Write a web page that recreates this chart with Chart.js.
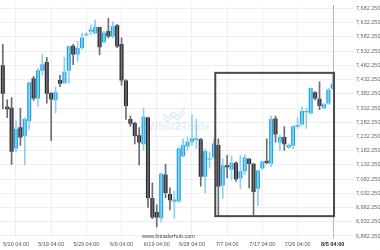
<!DOCTYPE html>
<html>
<head>
<meta charset="utf-8">
<script src="https://cdn.jsdelivr.net/npm/chart.js@4/dist/chart.umd.min.js"></script>
<style>
  html, body { margin: 0; padding: 0; background: #fff; }
  #wrap { width: 380px; height: 250px; }
</style>
</head>
<body>
<div id="wrap"><canvas id="chart"></canvas></div>
<script>
/* ---------- DATA ---------- */
const opens = [7481.5, 7336.0, 7332.5, 7191.5, 7263.7, 7235.1, 7286.7, 7435.7, 7366.9, 7464.3,
  7493.0, 7384.1, 7361.2, 7430.0, 7420.8, 7464.3, 7550.3, 7521.7, 7544.6, 7589.3,
  7601.9, 7596.2, 7615.7, 7565.2, 7601.9, 7584.7, 7622.5, 7556.0, 7427.7, 7292.4,
  7278.6, 7235.1, 7206.4, 7298.1, 7015.0, 6965.7, 6946.2, 7097.5, 7028.7, 7003.5,
  7005.8, 7164.0, 7198.4, 7214.4, 7221.3, 7221.3, 7091.8, 7152.5, 7160.6, 7200.7,
  7060.8, 7129.6, 7117.0, 7138.8, 7086.1, 7111.3, 7152.5, 7135.3, 7049.4, 7120.5,
  7145.7, 7137.6, 7294.7, 7212.2, 7229.4, 7195.0, 7200.7, 7267.2, 7275.2, 7318.8,
  7315.3, 7386.4, 7363.5, 7332.5, 7349.7, 7401.3];
const highs = [7556.0, 7361.2, 7369.2, 7286.7, 7332.5, 7298.1, 7424.2, 7443.7, 7470.1, 7521.7,
  7510.2, 7386.4, 7407.0, 7447.1, 7510.2, 7550.3, 7556.0, 7567.5, 7596.2, 7599.6,
  7624.8, 7642.0, 7617.0, 7601.9, 7647.7, 7636.3, 7627.1, 7579.0, 7432.3, 7303.9,
  7283.2, 7263.7, 7332.5, 7300.4, 7068.9, 6992.1, 7103.3, 7134.2, 7051.7, 7040.2,
  7195.0, 7223.6, 7229.4, 7309.6, 7292.4, 7225.9, 7189.2, 7177.8, 7223.6, 7223.6,
  7154.8, 7166.3, 7162.9, 7143.4, 7166.3, 7168.6, 7154.8, 7137.6, 7114.7, 7145.7,
  7223.6, 7303.9, 7303.9, 7237.4, 7267.2, 7206.4, 7269.5, 7298.1, 7336.0, 7332.5,
  7403.6, 7389.8, 7424.2, 7349.7, 7401.3, 7452.9];
const lows = [7329.1, 7298.1, 7134.2, 7180.0, 7200.7, 7131.9, 7258.0, 7358.9, 7338.2, 7447.1,
  7349.7, 7217.9, 7315.3, 7407.0, 7418.5, 7418.5, 7485.0, 7496.4, 7538.8, 7584.7,
  7590.4, 7592.7, 7519.4, 7561.8, 7579.0, 7579.0, 7544.6, 7412.8, 7292.4, 7267.2,
  7206.4, 7131.9, 7183.5, 6982.9, 6942.8, 6914.1, 6931.3, 7017.3, 6973.7, 6942.8,
  7000.1, 7160.6, 7183.5, 7200.7, 7189.2, 7057.4, 7034.5, 7120.5, 7154.8, 6954.0,
  7015.0, 7086.1, 7080.3, 7074.6, 7049.4, 7097.5, 7051.7, 6957.0, 6988.6, 7114.7,
  7135.3, 7126.2, 7212.2, 7183.5, 7183.5, 7189.2, 7189.2, 7260.3, 7271.8, 7260.3,
  7309.6, 7361.2, 7326.8, 7329.1, 7344.0, 7397.9];
const closes = [7384.1, 7329.1, 7180.0, 7258.0, 7229.4, 7292.4, 7420.8, 7366.9, 7464.3, 7485.0,
  7384.1, 7363.5, 7386.4, 7418.5, 7458.6, 7548.0, 7521.7, 7542.3, 7579.0, 7591.6,
  7607.6, 7615.7, 7546.9, 7596.2, 7584.7, 7619.1, 7550.3, 7430.0, 7340.5, 7278.6,
  7235.1, 7212.2, 7300.4, 7017.3, 6948.5, 6948.5, 7099.8, 7034.5, 7009.2, 7009.2,
  7189.2, 7200.7, 7212.2, 7223.6, 7224.8, 7091.8, 7180.0, 7154.8, 7206.4, 7057.4,
  7129.6, 7125.0, 7138.8, 7082.6, 7109.0, 7157.1, 7136.5, 7037.9, 7111.3, 7143.4,
  7140.0, 7292.4, 7240.8, 7229.4, 7206.4, 7200.7, 7267.2, 7271.8, 7321.0, 7321.0,
  7401.3, 7366.9, 7340.5, 7344.0, 7395.6, 7416.2];

const xTickIndex = [3, 11, 19, 27, 35, 43, 51, 59, 67, 75];
const xTickLabels = ["5/10 04:00", "5/19 04:00", "5/29 04:00", "6/9 04:00", "6/19 04:00",
  "6/28 04:00", "7/7 04:00", "7/17 04:00", "7/26 04:00", "8/5 04:00"];
const yTickValues = [6882.25, 6932.25, 6982.25, 7032.25, 7082.25, 7132.25, 7182.25, 7232.25,
  7282.25, 7332.25, 7382.25, 7432.25, 7482.25, 7532.25, 7582.25, 7632.25, 7682.25];

// pattern box (in index / price units)
const boxFrom = 48.3, boxTo = 75.3, boxTop = 7456, boxBottom = 6952;

/* ---------- COLOURS ---------- */
const UP = "#1ea5e3", DOWN = "#2a2a33";
const UP_WICK = "#8ccfee", DOWN_WICK = "#6d6d72";

const isUp = opens.map((o, i) => closes[i] >= o);
const bodies = opens.map((o, i) => ({ x: i, y: [o, closes[i]] }));
const wicks = lows.map((l, i) => ({ x: i, y: [l, highs[i]] }));

const FONT = "'Liberation Sans', Arial, sans-serif";

/* ---------- EXTRAS ---------- */
const extras = {
  id: "extras",
  beforeDatasetsDraw(chart) {
    const { ctx } = chart;
    // faint watermark
    ctx.save();
    ctx.globalAlpha = 0.3;
    ctx.font = "bold 11px " + FONT;
    ctx.textBaseline = "middle";
    ctx.fillStyle = "#b9c4cc";
    let x = 148;
    const y = 127;
    ctx.fillText("What", x, y);
    x += ctx.measureText("What").width;
    ctx.fillStyle = "#7cc4ea";
    ctx.fillText("2", x, y);
    x += ctx.measureText("2").width;
    ctx.fillStyle = "#b9c4cc";
    ctx.fillText("Trade", x, y);
    ctx.strokeStyle = "#7cc4ea";
    ctx.lineWidth = 1.5;
    ctx.beginPath();
    ctx.moveTo(163, 114); ctx.lineTo(168, 118); ctx.lineTo(173, 112);
    ctx.lineTo(178, 116); ctx.lineTo(185, 108);
    ctx.stroke();
    ctx.beginPath();
    ctx.moveTo(163, 118); ctx.lineTo(168, 122); ctx.lineTo(173, 116);
    ctx.lineTo(178, 120); ctx.lineTo(185, 112);
    ctx.stroke();
    ctx.restore();
  },
  afterDatasetsDraw(chart) {
    const { ctx, chartArea, scales } = chart;
    const xs = scales.x, ys = scales.y;
    ctx.save();
    // dotted current line
    const lx = Math.round(xs.getPixelForValue(xTickIndex[xTickIndex.length - 1])) + 0.5;
    ctx.strokeStyle = "#5d7890";
    ctx.lineWidth = 1;
    ctx.setLineDash([1, 1]);
    ctx.beginPath();
    ctx.moveTo(lx, chartArea.top);
    ctx.lineTo(lx, chartArea.bottom + 1);
    ctx.stroke();
    ctx.setLineDash([]);
    // box
    ctx.strokeStyle = "#4a4a4a";
    ctx.lineWidth = 2;
    const x0 = xs.getPixelForValue(boxFrom), x1 = xs.getPixelForValue(boxTo);
    const y0 = ys.getPixelForValue(boxTop), y1 = ys.getPixelForValue(boxBottom);
    ctx.strokeRect(x0, y0, x1 - x0, y1 - y0);
    // site text
    ctx.fillStyle = "#444";
    ctx.font = "5.5px " + FONT;
    ctx.textBaseline = "middle";
    ctx.fillText("www.fxtraderhub.com", 142, chartArea.bottom - 2);
    ctx.restore();
  }
};

/* ---------- CHART ---------- */
document.addEventListener("DOMContentLoaded", function () {
  const ctx = document.getElementById("chart").getContext("2d");

  new Chart(ctx, {
    type: "bar",
    data: {
      datasets: [{
        label: "wick",
        data: wicks,
        backgroundColor: isUp.map(u => u ? UP_WICK : DOWN_WICK),
        barThickness: 1,
        grouped: false
      }, {
        label: "body",
        data: bodies,
        backgroundColor: isUp.map(u => u ? UP : DOWN),
        barThickness: 3.4,
        grouped: false
      }]
    },
    options: {
      responsive: true,
      maintainAspectRatio: false,
      animation: false,
      layout: { padding: 0 },
      plugins: { legend: { display: false }, tooltip: { enabled: false } },
      scales: {
        x: {
          type: "linear",
          offset: false,
          min: -0.61,
          max: 79.84,
          afterBuildTicks(scale) { scale.ticks = xTickIndex.map(v => ({ value: v })); },
          afterFit(scale) { scale.height = 12; },
          border: { display: false },
          grid: {
            offset: false,
            drawTicks: false,
            color: c => c.index === xTickIndex.length - 1 ? "rgba(0,0,0,0)" : "#efefef"
          },
          ticks: {
            autoSkip: false,
            maxRotation: 0,
            padding: 3,
            color: c => c.index === xTickIndex.length - 1 ? "#222" : "#555",
            font: c => ({ family: FONT, size: 5.5, weight: c.index === xTickIndex.length - 1 ? "bold" : "normal" }),
            callback: (v, i) => xTickLabels[i]
          }
        },
        y: {
          position: "right",
          min: 6875.2,
          max: 7693.6,
          afterBuildTicks(scale) { scale.ticks = yTickValues.map(v => ({ value: v })); },
          afterFit(scale) { scale.width = 26; },
          border: { display: false },
          grid: { drawTicks: false, color: "#efefef" },
          ticks: {
            padding: 2,
            color: "#666",
            font: { family: FONT, size: 5.5 },
            callback: v => v.toLocaleString("en-US", { minimumFractionDigits: 3, maximumFractionDigits: 3 })
          }
        }
      }
    },
    plugins: [extras]
  });
});
</script>
</body>
</html>
